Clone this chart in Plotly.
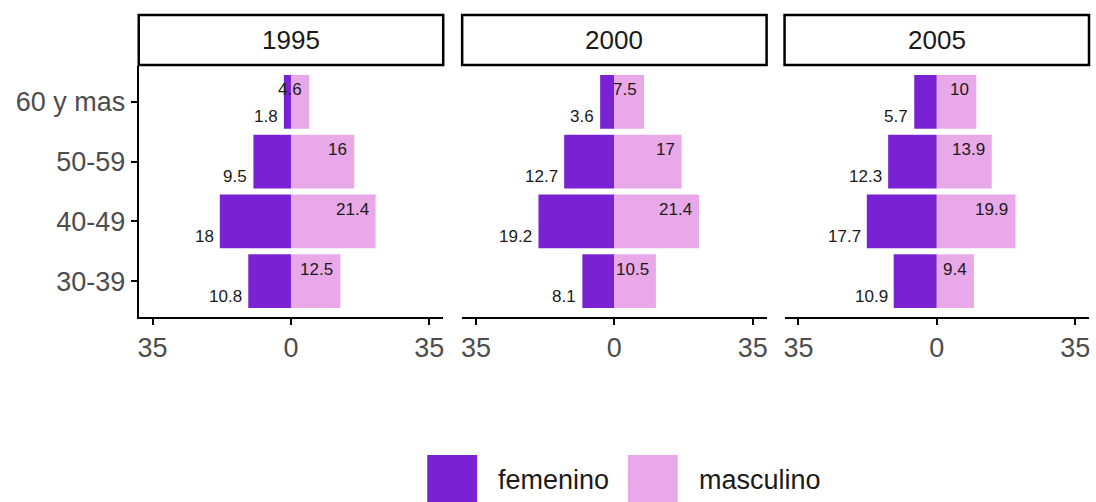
import plotly.graph_objects as go

# ---- data ----
years = ["1995", "2000", "2005"]
age_groups = ["30-39", "40-49", "50-59", "60 y mas"]
fem_1995 = [10.8, 18.0, 9.5, 1.8]
fem_2000 = [8.1, 19.2, 12.7, 3.6]
fem_2005 = [10.9, 17.7, 12.3, 5.7]
mas_1995 = [12.5, 21.4, 16.0, 4.6]
mas_2000 = [10.5, 21.4, 17.0, 7.5]
mas_2005 = [9.4, 19.9, 13.9, 10.0]
x_tickvals = [-35, 0, 35]
x_ticktext = ["35", "0", "35"]
series_names = ["femenino", "masculino"]

femenino = [fem_1995, fem_2000, fem_2005]
masculino = [mas_1995, mas_2000, mas_2005]

# ---- style ----
W, H = 1096, 502
PURPLE = "#7A22D3"
PINK = "#E9A9E9"
FONT = "Liberation Sans, Arial, sans-serif"
panel_px = [(138, 443), (462, 767), (785, 1090)]
plot_top, plot_bottom = 66, 317
strip_top, strip_bottom = 15, 65


def px_x(v):
    return v / W


def px_y(v):
    return 1 - v / H


fig = go.Figure()
layout = dict(
    width=W, height=H,
    margin=dict(l=0, r=0, t=0, b=0),
    paper_bgcolor="white", plot_bgcolor="white",
    barmode="relative", bargap=0.1,
    showlegend=False,
    font=dict(family=FONT),
)
annotations = []
shapes = []

for i, yr in enumerate(years):
    xa = "x" if i == 0 else f"x{i+1}"
    ya = "y" if i == 0 else f"y{i+1}"
    fig.add_trace(go.Bar(
        y=age_groups, x=[-v for v in femenino[i]], orientation="h",
        marker=dict(color=PURPLE, line=dict(width=0)), width=0.9,
        name=series_names[0], xaxis=xa, yaxis=ya, hoverinfo="skip"))
    fig.add_trace(go.Bar(
        y=age_groups, x=masculino[i], orientation="h",
        marker=dict(color=PINK, line=dict(width=0)), width=0.9,
        name=series_names[1], xaxis=xa, yaxis=ya, hoverinfo="skip"))

    x0, x1 = panel_px[i]
    xkey = "xaxis" if i == 0 else f"xaxis{i+1}"
    ykey = "yaxis" if i == 0 else f"yaxis{i+1}"
    layout[xkey] = dict(
        domain=[px_x(x0), px_x(x1)], range=[-38.5, 38.5], anchor=ya,
        tickvals=x_tickvals, ticktext=x_ticktext,
        showline=True, linecolor="black", linewidth=2,
        ticks="outside", ticklen=6, tickwidth=2, tickcolor="black",
        tickfont=dict(size=27, color="#4D4D4D", family=FONT),
        showgrid=False, zeroline=False, fixedrange=True,
    )
    first = i == 0
    layout[ykey] = dict(
        domain=[px_y(plot_bottom), px_y(plot_top)], anchor=xa,
        categoryorder="array", categoryarray=age_groups,
        range=[-0.6, len(age_groups) - 0.4],
        showline=first, linecolor="black", linewidth=2,
        ticks="outside" if first else "", ticklen=6, tickwidth=2, tickcolor="black",
        showticklabels=first,
        tickfont=dict(size=27, color="#4D4D4D", family=FONT),
        showgrid=False, zeroline=False, fixedrange=True,
    )

    # strip header
    shapes.append(dict(type="rect", xref="paper", yref="paper",
                       x0=px_x(x0), x1=px_x(x1), y0=px_y(strip_bottom), y1=px_y(strip_top),
                       line=dict(color="black", width=2.5), fillcolor="white"))
    annotations.append(dict(xref="paper", yref="paper", x=px_x((x0 + x1) / 2),
                            y=px_y((strip_top + strip_bottom) / 2), text=yr, showarrow=False,
                            xanchor="center", yanchor="middle",
                            font=dict(size=26, color="#1A1A1A", family=FONT)))

    # value labels
    for g, fv, mv in zip(age_groups, femenino[i], masculino[i]):
        annotations.append(dict(xref=xa, yref=ya, x=-fv, y=g, text=f"{fv:g}",
                                showarrow=False, xanchor="right", yanchor="middle",
                                xshift=-4, yshift=-15,
                                font=dict(size=17, color="#1A1A1A", family=FONT)))
        annotations.append(dict(xref=xa, yref=ya, x=mv, y=g, text=f"{mv:g}",
                                showarrow=False, xanchor="right", yanchor="middle",
                                xshift=-5, yshift=12,
                                font=dict(size=17, color="#1A1A1A", family=FONT)))

# legend drawn manually with large keys
legend_items = [(series_names[0], PURPLE, 427), (series_names[1], PINK, 628)]
for name, col, lx in legend_items:
    shapes.append(dict(type="rect", xref="paper", yref="paper",
                       x0=px_x(lx), x1=px_x(lx + 50), y0=px_y(502), y1=px_y(455),
                       line=dict(width=0), fillcolor=col))
    annotations.append(dict(xref="paper", yref="paper", x=px_x(lx + 69), y=px_y(480),
                            text=name, showarrow=False, xanchor="left", yanchor="middle",
                            font=dict(size=27, color="#1A1A1A", family=FONT)))

layout["shapes"] = shapes
layout["annotations"] = annotations
fig.update_layout(**layout)
fig.write_html(
    "out.html",
    config={"displayModeBar": False, "staticPlot": True},
    post_script="document.body.style.margin='0';document.body.style.overflow='hidden';",
)
